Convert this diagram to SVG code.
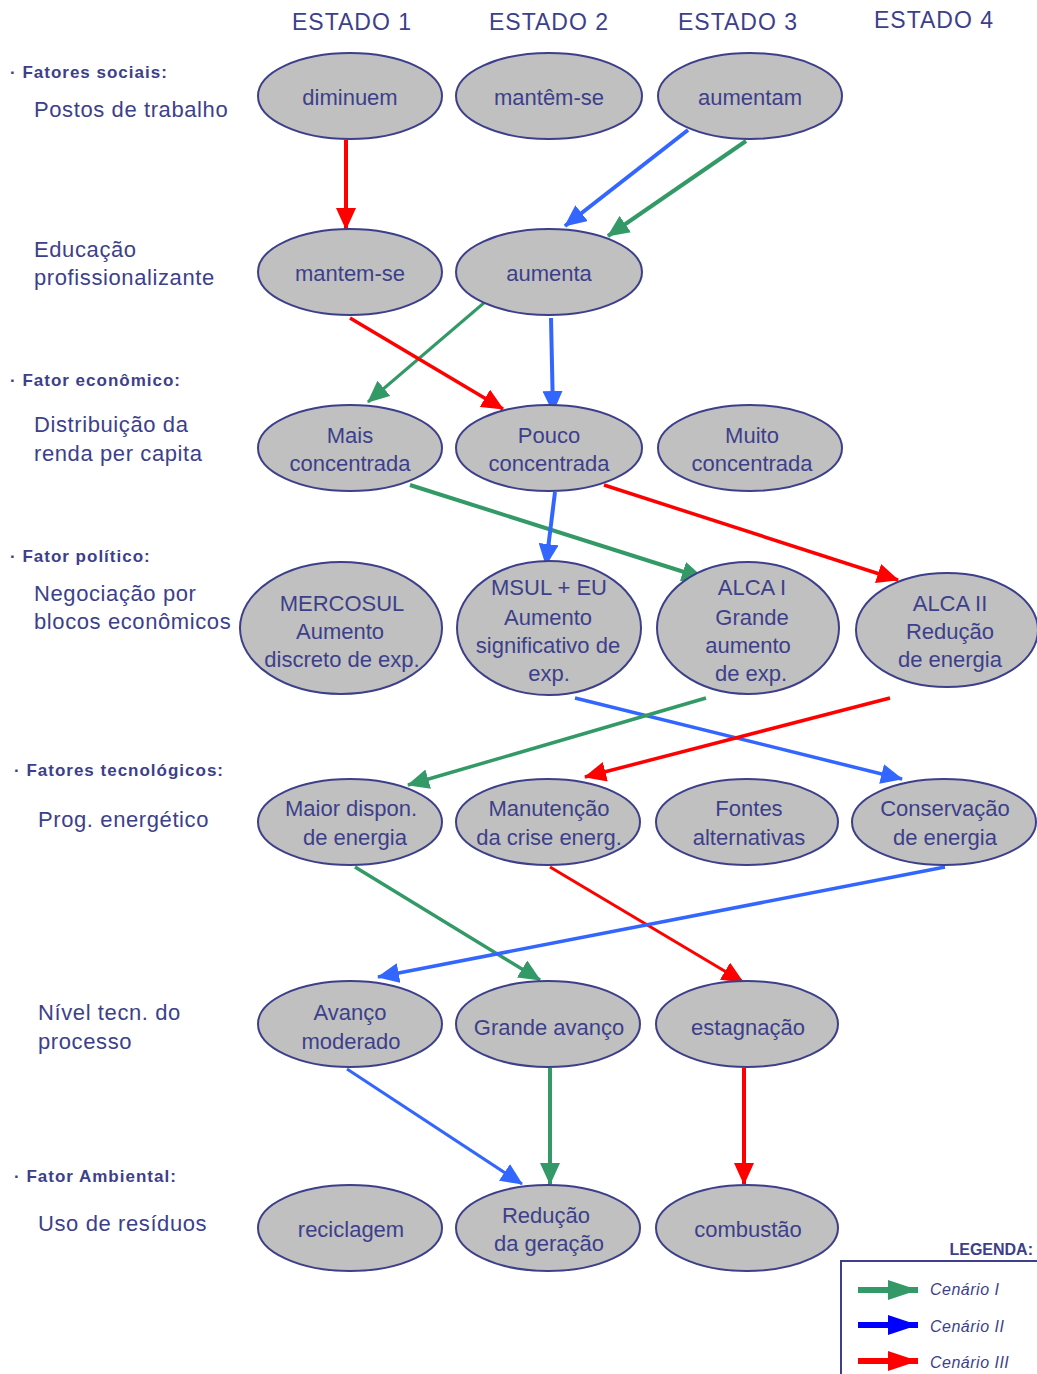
<svg xmlns="http://www.w3.org/2000/svg" width="1037" height="1374" viewBox="0 0 1037 1374">
<defs>
<style>
text{font-family:"Comic Sans MS","Liberation Sans",sans-serif;fill:#3d3f8a}
.h{font-size:23px;text-anchor:middle;letter-spacing:1px}
.lab{font-size:22px;letter-spacing:0.6px}
.cat{font-size:17px;font-weight:bold;letter-spacing:1px}
.n ellipse{fill:#c0c0c0;stroke:#3d3f8a;stroke-width:2}
.n text{font-size:22px;text-anchor:middle}
.e{fill:none;stroke-width:4}
.g{stroke:#339966}.b{stroke:#3366ff}.r{stroke:#ff0000}
.leg{font-size:16px;font-style:italic;letter-spacing:0.5px}
</style>
<marker id="ag" viewBox="0 0 22 20" refX="21" refY="10" markerWidth="22" markerHeight="20" orient="auto" markerUnits="userSpaceOnUse"><path d="M0,0L22,10L0,20z" fill="#339966"/></marker>
<marker id="ab" viewBox="0 0 22 20" refX="21" refY="10" markerWidth="22" markerHeight="20" orient="auto" markerUnits="userSpaceOnUse"><path d="M0,0L22,10L0,20z" fill="#3366ff"/></marker>
<marker id="ar" viewBox="0 0 22 20" refX="21" refY="10" markerWidth="22" markerHeight="20" orient="auto" markerUnits="userSpaceOnUse"><path d="M0,0L22,10L0,20z" fill="#ff0000"/></marker>
<marker id="lg" viewBox="0 0 30 20" refX="30" refY="10" markerWidth="30" markerHeight="20" orient="auto" markerUnits="userSpaceOnUse"><path d="M0,0L30,10L0,20z" fill="#339966"/></marker>
<marker id="lb" viewBox="0 0 30 20" refX="30" refY="10" markerWidth="30" markerHeight="20" orient="auto" markerUnits="userSpaceOnUse"><path d="M0,0L30,10L0,20z" fill="#0000ff"/></marker>
<marker id="lr" viewBox="0 0 30 20" refX="30" refY="10" markerWidth="30" markerHeight="20" orient="auto" markerUnits="userSpaceOnUse"><path d="M0,0L30,10L0,20z" fill="#ff0000"/></marker>
</defs>
<rect width="1037" height="1374" fill="#fff"/>

<g id="headers">
<text class="h" x="352" y="30">ESTADO 1</text>
<text class="h" x="549" y="30">ESTADO 2</text>
<text class="h" x="738" y="30">ESTADO 3</text>
<text class="h" x="934" y="28">ESTADO 4</text>
</g>

<g id="labels">
<text class="cat" x="10" y="78">· Fatores sociais:</text>
<text class="lab" x="34" y="117">Postos de trabalho</text>
<text class="lab" x="34" y="257">Educação</text>
<text class="lab" x="34" y="285">profissionalizante</text>
<text class="cat" x="10" y="386">· Fator econômico:</text>
<text class="lab" x="34" y="432">Distribuição da</text>
<text class="lab" x="34" y="461">renda per capita</text>
<text class="cat" x="10" y="562">· Fator político:</text>
<text class="lab" x="34" y="601">Negociação por</text>
<text class="lab" x="34" y="629">blocos econômicos</text>
<text class="cat" x="14" y="776">· Fatores tecnológicos:</text>
<text class="lab" x="38" y="827">Prog. energético</text>
<text class="lab" x="38" y="1020">Nível tecn. do</text>
<text class="lab" x="38" y="1049">processo</text>
<text class="cat" x="14" y="1182">· Fator Ambiental:</text>
<text class="lab" x="38" y="1231">Uso de resíduos</text>
</g>

<g id="connectors">
<line class="e r" x1="346" y1="140" x2="346" y2="229" marker-end="url(#ar)"/>
<line class="e b" x1="688" y1="130" x2="565" y2="226" marker-end="url(#ab)"/>
<line class="e g" x1="746" y1="141" x2="608" y2="236" marker-end="url(#ag)"/>
<line class="e g" x1="485" y1="302" x2="368" y2="402" marker-end="url(#ag)" style="stroke-width:3"/>
<line class="e r" x1="350" y1="318" x2="503" y2="409" marker-end="url(#ar)" style="stroke-width:3.5"/>
<line class="e b" x1="551" y1="318" x2="553" y2="412" marker-end="url(#ab)"/>
<line class="e g" x1="410" y1="485" x2="703" y2="578" marker-end="url(#ag)"/>
<line class="e b" x1="555" y1="492" x2="546" y2="565" marker-end="url(#ab)"/>
<line class="e r" x1="604" y1="485" x2="898" y2="580" marker-end="url(#ar)" style="stroke-width:3.5"/>
<line class="e b" x1="575" y1="698" x2="902" y2="779" marker-end="url(#ab)" style="stroke-width:3.5"/>
<line class="e g" x1="706" y1="698" x2="408" y2="785" marker-end="url(#ag)" style="stroke-width:3.5"/>
<line class="e r" x1="890" y1="698" x2="585" y2="777" marker-end="url(#ar)" style="stroke-width:3.5"/>
<line class="e g" x1="355" y1="867" x2="540" y2="980" marker-end="url(#ag)" style="stroke-width:3.5"/>
<line class="e r" x1="550" y1="867" x2="743" y2="982" marker-end="url(#ar)" style="stroke-width:3"/>
<line class="e b" x1="945" y1="867" x2="378" y2="977" marker-end="url(#ab)" style="stroke-width:3.5"/>
<line class="e b" x1="347" y1="1069" x2="522" y2="1184" marker-end="url(#ab)" style="stroke-width:3"/>
<line class="e g" x1="550" y1="1068" x2="550" y2="1184" marker-end="url(#ag)"/>
<line class="e r" x1="744" y1="1068" x2="744" y2="1184" marker-end="url(#ar)"/>
</g>

<g id="n-diminuem" class="n"><ellipse cx="350" cy="96" rx="92" ry="43"/><text x="350" y="105">diminuem</text></g>
<g id="n-mantem-se-1" class="n"><ellipse cx="549" cy="96" rx="93" ry="43"/><text x="549" y="105">mantêm-se</text></g>
<g id="n-aumentam" class="n"><ellipse cx="750" cy="96" rx="92" ry="43"/><text x="750" y="105">aumentam</text></g>

<g id="n-mantem-se-2" class="n"><ellipse cx="350" cy="272" rx="92" ry="43"/><text x="350" y="281">mantem-se</text></g>
<g id="n-aumenta" class="n"><ellipse cx="549" cy="272" rx="93" ry="43"/><text x="549" y="281">aumenta</text></g>

<g id="n-mais" class="n"><ellipse cx="350" cy="448" rx="92" ry="43"/><text x="350" y="443">Mais</text><text x="350" y="471">concentrada</text></g>
<g id="n-pouco" class="n"><ellipse cx="549" cy="448" rx="93" ry="43"/><text x="549" y="443">Pouco</text><text x="549" y="471">concentrada</text></g>
<g id="n-muito" class="n"><ellipse cx="750" cy="448" rx="92" ry="43"/><text x="752" y="443">Muito</text><text x="752" y="471">concentrada</text></g>

<g id="n-mercosul" class="n"><ellipse cx="341" cy="628" rx="101" ry="66"/><text x="342" y="611">MERCOSUL</text><text x="340" y="639">Aumento</text><text x="342" y="667">discreto de exp.</text></g>
<g id="n-msul-eu" class="n"><ellipse cx="549" cy="628" rx="92" ry="67"/><text x="549" y="595">MSUL + EU</text><text x="548" y="625">Aumento</text><text x="548" y="653">significativo de</text><text x="549" y="681">exp.</text></g>
<g id="n-alca1" class="n"><ellipse cx="748" cy="628" rx="91" ry="66"/><text x="752" y="595">ALCA I</text><text x="752" y="625">Grande</text><text x="748" y="653">aumento</text><text x="751" y="681">de exp.</text></g>
<g id="n-alca2" class="n"><ellipse cx="947" cy="630" rx="91" ry="57"/><text x="950" y="611">ALCA II</text><text x="950" y="639">Redução</text><text x="950" y="667">de energia</text></g>

<g id="n-maior" class="n"><ellipse cx="350" cy="822" rx="92" ry="43"/><text x="351" y="816">Maior dispon.</text><text x="355" y="845">de energia</text></g>
<g id="n-manutencao" class="n"><ellipse cx="548" cy="822" rx="92" ry="43"/><text x="549" y="816">Manutenção</text><text x="549" y="845">da crise energ.</text></g>
<g id="n-fontes" class="n"><ellipse cx="747" cy="822" rx="91" ry="43"/><text x="749" y="816">Fontes</text><text x="749" y="845">alternativas</text></g>
<g id="n-conservacao" class="n"><ellipse cx="944" cy="822" rx="92" ry="43"/><text x="945" y="816">Conservação</text><text x="945" y="845">de energia</text></g>

<g id="n-avanco" class="n"><ellipse cx="350" cy="1024" rx="92" ry="43"/><text x="350" y="1020">Avanço</text><text x="351" y="1049">moderado</text></g>
<g id="n-grande" class="n"><ellipse cx="548" cy="1024" rx="92" ry="43"/><text x="549" y="1035">Grande avanço</text></g>
<g id="n-estagnacao" class="n"><ellipse cx="747" cy="1024" rx="91" ry="43"/><text x="748" y="1035">estagnação</text></g>

<g id="n-reciclagem" class="n"><ellipse cx="350" cy="1228" rx="92" ry="43"/><text x="351" y="1237">reciclagem</text></g>
<g id="n-reducao" class="n"><ellipse cx="548" cy="1228" rx="92" ry="43"/><text x="546" y="1223">Redução</text><text x="549" y="1251">da geração</text></g>
<g id="n-combustao" class="n"><ellipse cx="747" cy="1228" rx="91" ry="43"/><text x="748" y="1237">combustão</text></g>

<g id="legend">
<text x="1033" y="1255" style="font-size:16px;font-weight:bold;text-anchor:end">LEGENDA:</text>
<path d="M841,1374V1261H1037" fill="none" stroke="#3d3f8a" stroke-width="2"/>
<line x1="858" y1="1290" x2="918" y2="1290" stroke="#339966" stroke-width="6" marker-end="url(#lg)"/>
<line x1="858" y1="1325" x2="918" y2="1325" stroke="#0000ff" stroke-width="6" marker-end="url(#lb)"/>
<line x1="858" y1="1361" x2="918" y2="1361" stroke="#ff0000" stroke-width="6" marker-end="url(#lr)"/>
<text class="leg" x="930" y="1295">Cenário I</text>
<text class="leg" x="930" y="1332">Cenário II</text>
<text class="leg" x="930" y="1368">Cenário III</text>
</g>
</svg>
